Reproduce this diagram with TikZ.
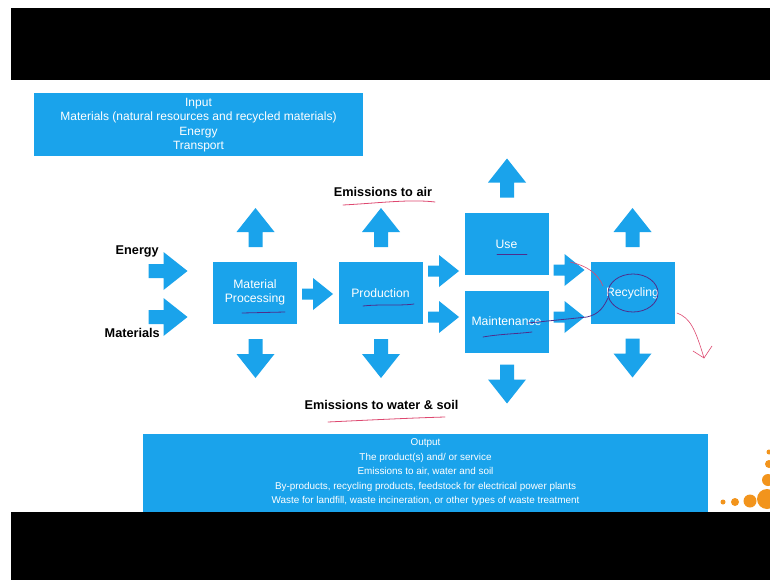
\documentclass[tikz,border=0pt]{standalone}
\usepackage{fontspec}
\setmainfont{Liberation Sans}
\definecolor{boxblue}{RGB}{26,163,235}
\definecolor{penred}{RGB}{222,72,112}
\definecolor{penpurple}{RGB}{78,46,140}
\definecolor{logoorange}{RGB}{242,148,28}
\begin{document}
\begin{tikzpicture}[x = 1pt, y = -1pt,
        box/.style = {fill = boxblue, text = white, align = center, inner sep = 0pt, minimum width = 84, minimum height = 62, font = \fontsize{12.2}{14}\selectfont},
        lbl/.style = {font = \bfseries\fontsize{12.7}{14}\selectfont, inner sep = 0pt},
        pen/.style = {line width = 0.8pt, line cap = round},
        bigarrow/.pic = {\fill[boxblue] (-19.5, -7) -- (-4.5, -7) -- (-4.5, -19) -- (19.5, 0) -- (-4.5, 19) -- (-4.5, 7) -- (-19.5, 7) -- cycle;},
        smallarrow/.pic = {\fill[boxblue] (-15.5, -5.5) -- (-4.5, -5.5) -- (-4.5, -16) -- (15.5, 0) -- (-4.5, 16) -- (-4.5, 5.5) -- (-15.5, 5.5) -- cycle;}]
        \useasboundingbox[fill = white] (0, 0) rectangle (770, 580);

        \node[box, minimum width = 329, minimum height = 63, font = \fontsize{12}{14.4}\selectfont] (input) at (198.5, 125) {Input\\Materials (natural resources and recycled materials)\\Energy\\Transport};

        \node[box] (matproc) at (255, 292.5) {Material\\Processing};
        \node[box] (prod) at (380.5, 293) {Production};
        \node[box] (use) at (506.5, 244) {Use};
        \node[box] (maint) at (506.5, 321.5) {Maintenance};
        \node[box] (recyc) at (632.5, 293) {Recycling};

        \node[lbl, anchor = east] (energy) at (159, 251) {Energy};
        \node[lbl, anchor = east] (materials) at (160, 333) {Materials};
        \node[lbl] (airlabel) at (383, 192) {Emissions to air};
        \node[lbl] (waterlabel) at (381.5, 405) {Emissions to water \& soil};

        \pic at (168, 271) {bigarrow};
        \pic at (168, 317) {bigarrow};
        \pic at (317.5, 294) {smallarrow};
        \pic at (443.5, 271) {smallarrow};
        \pic at (443.5, 317) {smallarrow};
        \pic at (569, 270) {smallarrow};
        \pic at (569, 317) {smallarrow};

        \pic[rotate = 90] at (255.5, 227.5) {bigarrow};
        \pic[rotate = 90] at (381, 227.5) {bigarrow};
        \pic[rotate = 90] at (507, 178) {bigarrow};
        \pic[rotate = 90] at (632.5, 227.5) {bigarrow};
        \pic[rotate = -90] at (255.5, 358.5) {bigarrow};
        \pic[rotate = -90] at (381, 358.5) {bigarrow};
        \pic[rotate = -90] at (507, 384) {bigarrow};
        \pic[rotate = -90] at (632.5, 358) {bigarrow};

        \node[box, minimum width = 565, minimum height = 78, font = \fontsize{9.9}{14.5}\selectfont] (output) at (425.5, 472.5) {Output\\The product(s) and/ or service\\Emissions to air, water and soil\\By-products, recycling products, feedstock for electrical power plants\\Waste for landfill, waste incineration, or other types of waste treatment};

        \draw[pen, penred] (343, 205) .. controls (380, 203) and (410, 199) .. (435, 202);
        \draw[pen, penred] (328, 422) .. controls (370, 420) and (410, 418) .. (445, 417);
        \draw[pen, penpurple] (242, 313) -- (285, 312);
        \draw[pen, penpurple] (363, 306) .. controls (380, 304) and (400, 306) .. (414, 304);
        \draw[pen, penpurple] (497, 254) -- (527, 254);
        \draw[pen, penpurple] (483, 337) .. controls (500, 334) and (515, 334) .. (532, 332);
        \draw[pen, penpurple] (528, 323) -- (587, 317) .. controls (600, 314) and (604, 306) .. (608, 298);
        \draw[pen, penpurple] (633, 293) ellipse [x radius = 25pt, y radius = 19pt];
        \draw[pen, penred, line width = 0.6pt] (570, 262) .. controls (588, 266) and (598, 274) .. (603, 286);
        \draw[pen, penred, line width = 0.6pt] (677, 313) .. controls (690, 318) and (695, 328) .. (704, 358);
        \draw[pen, penred, line width = 0.6pt] (693, 351) -- (704, 358) -- (712, 346);

        \fill[logoorange] (723, 502) circle (2.5pt);
        \fill[logoorange] (735, 502) circle (4pt);
        \fill[logoorange] (750, 501) circle (6.5pt);
        \fill[logoorange] (767, 499) circle (10pt);
        \fill[logoorange] (768, 480) circle (6pt);
        \fill[logoorange] (769, 464) circle (4pt);
        \fill[logoorange] (769, 452) circle (2.5pt);

        \fill[black] (11, 8) rectangle (770, 80);
        \fill[black] (11, 512) rectangle (770, 580);
    \end{tikzpicture}
\end{document}
